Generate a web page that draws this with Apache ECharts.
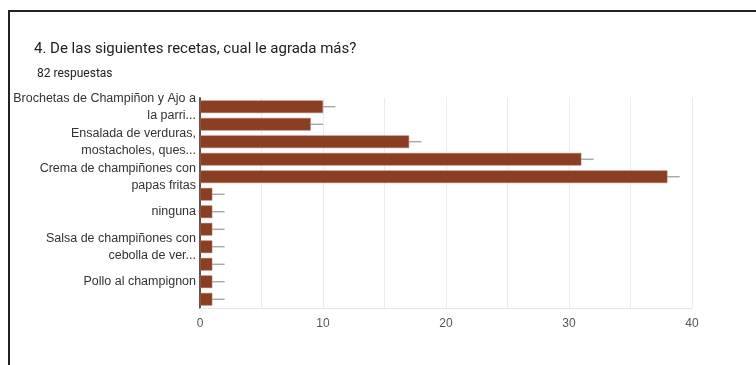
<!DOCTYPE html>
<html>
<head>
<meta charset="utf-8">
<script src="https://cdn.jsdelivr.net/npm/echarts@6/dist/echarts.min.js"></script>
<style>
  html, body { margin: 0; padding: 0; background: #fff; }
  .frame { position: absolute; left: 8px; top: 10px; width: 760px; height: 370px;
           border-top: 2px solid #222; border-left: 2px solid #222; }
  .main { position: absolute; left: 0; top: 0; width: 756px; height: 365px; }
</style>
</head>
<body>
<div class="frame"></div>
<div class="main"></div>
<script>
// categorias (solo se ven una de cada dos, como en el original)
var recetas = [
  'Brochetas de Champiñon y Ajo a\nla parri...',
  'Champiñones rellenos',
  'Ensalada de verduras,\nmostacholes, ques...',
  'Pasta con champiñones',
  'Crema de champiñones con\npapas fritas',
  'Todas',
  'ninguna',
  'Pizza de champiñones',
  'Salsa de champiñones con\ncebolla de ver...',
  'Tortilla de champiñones',
  'Pollo al champignon',
  'Otra'
];
var votos = [10, 9, 17, 31, 38, 1, 1, 1, 1, 1, 1, 1];
// fin de la rayita gris que sale de cada barra
var finRaya = [11, 10, 18, 32, 39, 2, 2, 2, 2, 2, 2, 2];
var ticksX = [0, 10, 20, 30, 40];

var rayas = [];
for (var i = 0; i < votos.length; i++) {
  rayas.push([votos[i], finRaya[i], i]);
}

var chart = echarts.init(document.querySelector('.main'));
chart.setOption({
  animation: false,
  title: [{
    text: '4. De las siguientes recetas, cual le agrada más?',
    left: 29, top: 37,
    textStyle: { fontFamily: 'Roboto', fontSize: 15, fontWeight: 'normal', color: '#202124' }
  }, {
    text: '82 respuestas',
    left: 32, top: 63,
    textStyle: { fontFamily: 'Roboto', fontSize: 12, fontWeight: 'normal', color: '#202124' }
  }],
  grid: { left: 200, right: 64, top: 98, bottom: 57 },
  xAxis: {
    type: 'value', min: 0, max: 40, interval: 5,
    axisLine: { show: true, lineStyle: { color: '#e6e6e6' } },
    axisTick: { show: false },
    splitLine: { lineStyle: { color: '#ececec' } },
    axisLabel: {
      color: '#555', fontFamily: 'Liberation Sans', fontSize: 12, margin: 10,
      formatter: function (v) { return ticksX.indexOf(v) >= 0 ? String(v) : ''; }
    }
  },
  yAxis: {
    type: 'category', inverse: true, data: recetas,
    axisLine: { lineStyle: { color: '#555', width: 2 } },
    axisTick: { show: false },
    axisLabel: {
      interval: 1, color: '#333', fontFamily: 'Liberation Sans', fontSize: 12.5,
      lineHeight: 17, margin: 4, align: 'right'
    }
  },
  series: [{
    type: 'bar', data: votos, barCategoryGap: '28%',
    itemStyle: { color: '#8a3e22', borderColor: '#b07060', borderWidth: 0.5 }
  }, {
    type: 'custom', data: rayas, z: 1,
    encode: { x: [0, 1], y: 2 },
    renderItem: function (params, api) {
      var a = api.coord([api.value(0), api.value(2)]);
      var b = api.coord([api.value(1), api.value(2)]);
      return {
        type: 'line',
        shape: { x1: a[0], y1: a[1], x2: b[0], y2: b[1] },
        style: { stroke: '#999', lineWidth: 1.2 }
      };
    }
  }]
});
</script>
</body>
</html>
